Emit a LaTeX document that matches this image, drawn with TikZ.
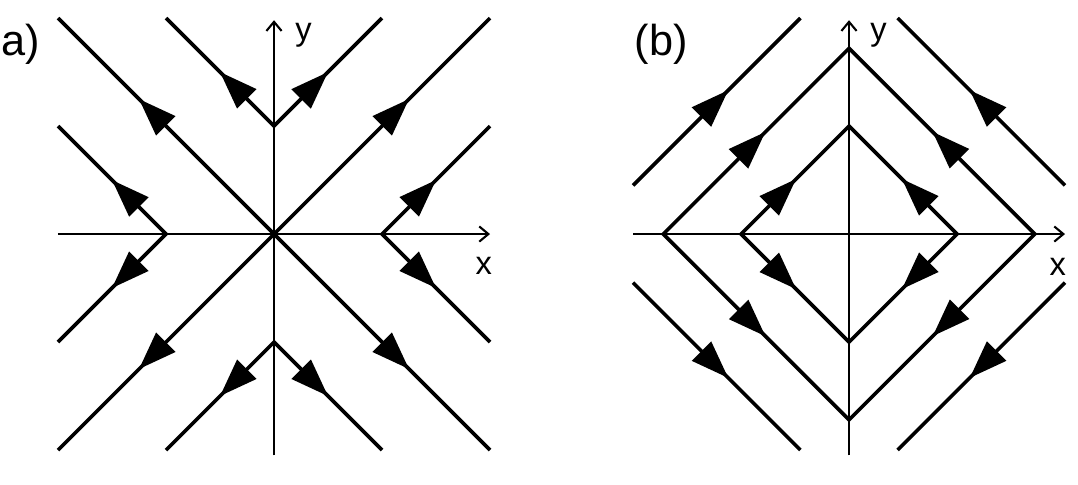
\documentclass[tikz,border=0pt]{standalone}
\usepackage{fontspec}
\setmainfont{Liberation Sans}
\usetikzlibrary{arrows.meta,decorations.markings}

\begin{document}
\begin{tikzpicture}[
    flowtip/.tip={Triangle[length=10pt,width=7pt]},
    fwd/.style={postaction={decorate,decoration={markings,mark=at position #1 with {\arrow{flowtip}}}}},
    rev/.style={postaction={decorate,decoration={markings,mark=at position #1 with {\arrowreversed{flowtip}}}}}]
  \tikzstyle{orbit}=[line width=0.95pt]
  \tikzstyle{axis}=[line width=0.55pt,-{Straight Barb[length=2.4pt,width=4pt]}]
  \tikzstyle{axlabel}=[anchor=base west,inner sep=0pt,font=\fontsize{8.6}{10}\selectfont]
  \tikzstyle{panel}=[anchor=base west,inner sep=0pt,font=\fontsize{11.4}{13}\selectfont]
  \useasboundingbox (-2.537,-2.315) rectangle (7.444,2.167);
  % (a) saddle
  \draw[axis] (-2,0) -- (2,0);
  \draw[axis] (0,-2.05) -- (0,1.98);
  \node[axlabel] (xa) at (1.86,-0.37) {x};
  \node[axlabel] (ya) at (0.19,1.79) {y};
  \node[panel] (la) at (-2.528,1.657) {a)};
  \draw[orbit,rev=0.1875,fwd=0.8125] (-2,2) -- (2,-2);
  \draw[orbit,rev=0.1875,fwd=0.8125] (-2,-2) -- (2,2);
  \foreach \a in {0,90,180,270}
    \draw[orbit,rotate=\a,rev=0.25,fwd=0.75] (-1,2) -- (0,1) -- (1,2);
  % (b) centre
  \begin{scope}[shift={(5.324,0)}]
    \draw[axis] (-2,0) -- (2,0);
    \draw[axis] (0,-2.05) -- (0,1.98);
    \node[axlabel] (xb) at (1.85,-0.38) {x};
    \node[axlabel] (yb) at (0.19,1.79) {y};
    \node[panel] (lb) at (-1.99,1.65) {(b)};
    \draw[orbit,fwd=0.1275,rev=0.3725,fwd=0.6275,rev=0.8725] (-1,0) -- (0,1) -- (1,0) -- (0,-1) -- cycle;
    \draw[orbit,fwd=0.1375,rev=0.3625,fwd=0.6375,rev=0.8625] (-1.72,0) -- (0,1.72) -- (1.72,0) -- (0,-1.72) -- cycle;
    \foreach \sx/\sy in {1/1,-1/1,1/-1,-1/-1}
      \draw[orbit,xscale=\sx,yscale=\sy,fwd=0.57] (-2,0.45) -- (-0.45,2);
  \end{scope}
\end{tikzpicture}
\end{document}
